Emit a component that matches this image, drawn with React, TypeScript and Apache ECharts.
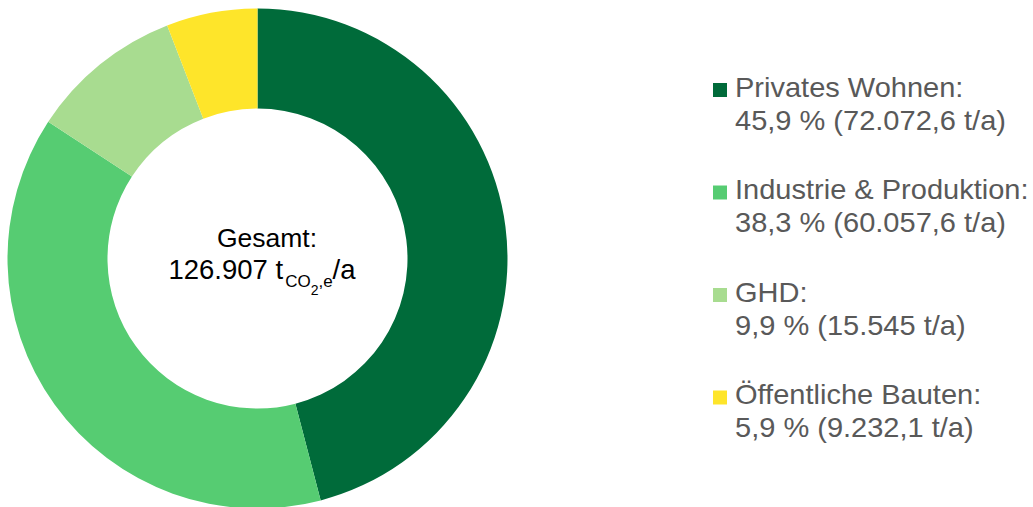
import React, { useEffect, useRef } from "react";
import * as echarts from "echarts";

const categories = ["Privates Wohnen", "Industrie & Produktion", "GHD", "Öffentliche Bauten"];
const values = [72072.6, 60057.6, 15545, 9232.1];
const percentLabels = ["45,9 %", "38,3 %", "9,9 %", "5,9 %"];
const amountLabels = ["72.072,6 t/a", "60.057,6 t/a", "15.545 t/a", "9.232,1 t/a"];
const colors = ["#006B3A", "#56CC72", "#A8DC90", "#FEE52A"];
const centerTitle = "Gesamt:";
const totalLabel = "126.907 t";
const unitParts = ["CO", "2", ",e", "/a"];

const FONT = '"Liberation Sans", Arial, Helvetica, sans-serif';

function measure(text: string, size: number): number {
  const c = document.createElement("canvas");
  const ctx = c.getContext("2d");
  if (!ctx) return text.length * size * 0.55;
  ctx.font = `${size}px "Liberation Sans", Arial, sans-serif`;
  return ctx.measureText(text).width;
}

export default function App() {
  const ref = useRef<HTMLDivElement>(null);
  useEffect(() => {
    if (!ref.current) return;
    const chart = echarts.init(ref.current, undefined, { renderer: "svg" });

    const graphics: any[] = [];
    // legend
    const legendX = 713;
    const textX = 735;
    const firstBaseline = 97;
    const itemStep = 102.5;
    const lineStep = 33;
    const fs = 27;
    const sx = 1.075;
    categories.forEach((name, i) => {
      const base = firstBaseline + i * itemStep;
      graphics.push({
        type: "rect",
        shape: { x: legendX, y: base - 14, width: 14, height: 14 },
        style: { fill: colors[i] },
      });
      graphics.push({
        type: "text",
        x: textX,
        y: base - fs * 0.35,
        scaleX: sx,
        style: {
          text: name + ":",
          font: `${fs}px ${FONT}`,
          fill: "#595959",
          verticalAlign: "middle",
          align: "left",
        },
      });
      graphics.push({
        type: "text",
        x: textX,
        y: base + lineStep - fs * 0.35,
        scaleX: sx,
        style: {
          text: `${percentLabels[i]} (${amountLabels[i]})`,
          font: `${fs}px ${FONT}`,
          fill: "#595959",
          verticalAlign: "middle",
          align: "left",
        },
      });
    });

    // center text
    const cfs = 26.5;
    graphics.push({
      type: "text",
      x: 267,
      y: 247 - cfs * 0.35,
      style: {
        text: centerTitle,
        font: `${cfs}px ${FONT}`,
        fill: "#000000",
        align: "center",
        verticalAlign: "middle",
      },
    });
    const pieces = [
      { t: totalLabel, s: 27.5, dy: 0 },
      { t: unitParts[0], s: 17, dy: 8 },
      { t: unitParts[1], s: 14, dy: 16 },
      { t: unitParts[2], s: 17, dy: 8 },
      { t: unitParts[3], s: 27.5, dy: 0 },
    ];
    const widths = pieces.map((p) => measure(p.t, p.s));
    const total = widths.reduce((a, b) => a + b, 0);
    let x = 261 - total / 2;
    const base2 = 279;
    pieces.forEach((p, i) => {
      graphics.push({
        type: "text",
        x,
        y: base2 + p.dy - p.s * 0.35,
        style: {
          text: p.t,
          font: `${p.s}px ${FONT}`,
          fill: "#000000",
          align: "left",
          verticalAlign: "middle",
        },
      });
      x += widths[i] + (i === 0 ? 2 : 0);
    });

    chart.setOption({
      animation: false,
      backgroundColor: "#ffffff",
      series: [
        {
          type: "pie",
          center: [257.5, 258.5],
          radius: [150, 250],
          startAngle: 90,
          clockwise: true,
          label: { show: false },
          labelLine: { show: false },
          emphasis: { disabled: true },
          silent: true,
          itemStyle: { borderWidth: 0 },
          data: categories.map((name, i) => ({
            name,
            value: values[i],
            itemStyle: { color: colors[i] },
          })),
        },
      ],
      graphic: graphics,
    });
    return () => chart.dispose();
  }, []);
  return (
    <div
      ref={ref}
      style={{ position: "absolute", left: 0, top: 0, width: 1033, height: 507 }}
    />
  );
}
